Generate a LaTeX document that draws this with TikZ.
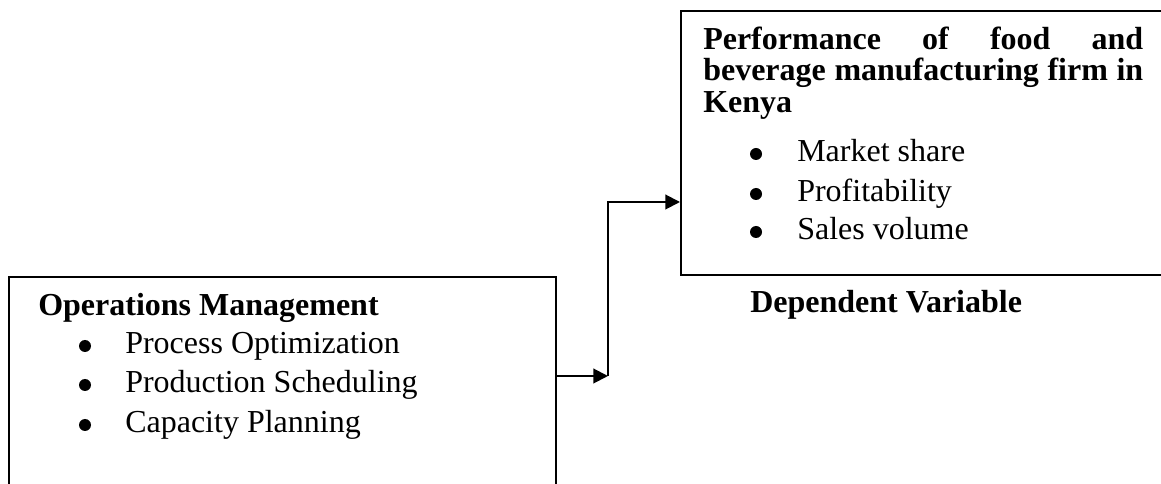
\documentclass[tikz,border=0pt]{standalone}
\usepackage{fontspec}
\setmainfont{Liberation Serif}
\usetikzlibrary{arrows.meta}

\begin{document}
\begin{tikzpicture}
  [x=0.75pt,y=-0.75pt,
   box/.style={draw,line width=1.3pt,inner sep=0pt,anchor=north west},
   hd/.style={anchor=base west,inner sep=0pt,font=\fontsize{24}{28}\selectfont\bfseries},
   txt/.style={anchor=base west,inner sep=0pt,font=\fontsize{24}{28}\selectfont},
   blt/.style={circle,fill,inner sep=0pt,minimum size=9pt},
   link/.style={line width=1.5pt,-{Triangle[length=11pt,width=11pt]}}]
  \useasboundingbox (0,0) rectangle (1161,484);
  \clip (0,0) rectangle (1161,484);

  \node[box,minimum width=410.25pt,minimum height=183pt] (opbox) at (8,276) {};
  \node[box,minimum width=375pt,minimum height=198pt] (perfbox) at (680,10) {};

  \node[hd] (ophead) at (38,316) {Operations Management};
  \foreach \y/\t [count=\i] in {354/Process Optimization,393/Production Scheduling,433/Capacity Planning}
  {
    \node[blt] (opb\i) at (85,\y-8) {};
    \node[txt] (op\i) at (125,\y) {\t};
  }

  \node[hd] (perf1) at (703,50) {\makebox[330pt][s]{Performance of food and}};
  \node[hd] (perf2) at (703,81) {\makebox[330pt][s]{beverage manufacturing firm in}};
  \node[hd] (perf3) at (703,113) {Kenya};
  \foreach \y/\t [count=\i] in {162/Market share,202/Profitability,240/Sales volume}
  {
    \node[blt] (perfb\i) at (756,\y-8) {};
    \node[txt] (perfi\i) at (797,\y) {\t};
  }
  \node[hd] (dep) at (750,313) {Dependent Variable};

  \coordinate (c1) at (608,376);
  \coordinate (c2) at (608,202);
  \draw[link] (opbox.east |- c1) -- (c1);
  \draw[link] (c1) -- (c2) -- (perfbox.west |- c2);

\end{tikzpicture}
\end{document}
